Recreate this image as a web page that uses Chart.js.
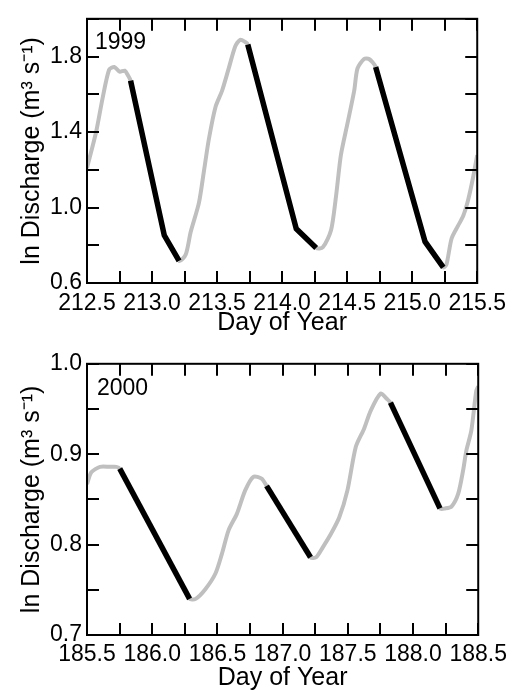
<!DOCTYPE html>
<html>
<head>
<meta charset="utf-8">
<script src="https://cdn.jsdelivr.net/npm/chart.js@4/dist/chart.umd.min.js"></script>
<style>
  body { margin: 0; background: #fff; }
  canvas { position: absolute; left: 0; }
  #chart1999 { top: 0; }
  #chart2000 { top: 345px; }
</style>
</head>
<body>
<canvas id="chart1999" width="513" height="345"></canvas>
<canvas id="chart2000" width="513" height="350"></canvas>
<script>
// 1999 - full discharge record (grey)
const days1999 = [212.5, 212.57, 212.62, 212.67, 212.71, 212.75, 212.79, 212.815, 212.835,
  213.094, 213.208, 213.259, 213.297, 213.36, 213.399, 213.437, 213.488, 213.538, 213.589,
  213.64, 213.678, 213.716, 213.736, 214.109, 214.262, 214.313, 214.376, 214.414, 214.452,
  214.503, 214.554, 214.579, 214.63, 214.668, 214.719, 215.099, 215.239, 215.264, 215.303,
  215.353, 215.392, 215.43, 215.468, 215.5];
const q1999 = [1.21, 1.40, 1.58, 1.73, 1.745, 1.72, 1.725, 1.70, 1.672,
  0.853, 0.717, 0.751, 0.87, 1.023, 1.193, 1.363, 1.533, 1.618, 1.736,
  1.855, 1.889, 1.877, 1.864, 0.887, 0.785, 0.789, 0.879, 1.057, 1.278,
  1.447, 1.618, 1.736, 1.787, 1.787, 1.745, 0.819, 0.683, 0.70, 0.836,
  0.904, 0.955, 1.04, 1.159, 1.278];
// 1999 - recession segments (black)
const recDays1999 = [[212.835, 213.094, 213.208], [213.736, 214.109, 214.262], [214.719, 215.099, 215.239]];
const recQ1999 = [[1.672, 0.853, 0.717], [1.864, 0.887, 0.785], [1.745, 0.819, 0.683]];

// 2000
const days2000 = [185.5, 185.533, 185.6, 185.675, 185.725, 185.751, 186.287, 186.333, 186.409,
  186.485, 186.535, 186.586, 186.649, 186.713, 186.776, 186.839, 186.877, 187.214, 187.257,
  187.308, 187.371, 187.434, 187.497, 187.561, 187.624, 187.675, 187.751, 187.801, 187.827,
  188.207, 188.245, 188.295, 188.346, 188.384, 188.409, 188.447, 188.485, 188.5];
const q2000 = [0.867, 0.880, 0.886, 0.886, 0.886, 0.884, 0.740, 0.740, 0.751,
  0.768, 0.790, 0.816, 0.834, 0.860, 0.875, 0.873, 0.865, 0.786, 0.786,
  0.797, 0.812, 0.830, 0.860, 0.908, 0.928, 0.948, 0.967, 0.961, 0.957,
  0.840, 0.840, 0.842, 0.856, 0.882, 0.904, 0.926, 0.970, 0.975];
const recDays2000 = [[185.751, 186.287], [186.877, 187.214], [187.827, 188.207]];
const recQ2000 = [[0.884, 0.740], [0.865, 0.786], [0.957, 0.840]];

Chart.defaults.font.family = '"Liberation Sans", Arial, sans-serif';
Chart.defaults.color = '#000';

const toPoints = (xs, ys) => xs.map((x, i) => ({ x, y: ys[i] }));

// inward ticks on all four sides + frame + year label
const framePlugin = {
  id: 'frame',
  afterDatasetsDraw(chart, args, opts) {
    const { ctx, chartArea: a, scales: { x, y } } = chart;
    const len = 12;
    ctx.save();
    ctx.strokeStyle = '#000';
    ctx.lineWidth = 2;
    ctx.beginPath();
    x.ticks.forEach(t => {
      const px = Math.round(x.getPixelForValue(t.value));
      ctx.moveTo(px, a.bottom); ctx.lineTo(px, a.bottom - len);
      ctx.moveTo(px, a.top); ctx.lineTo(px, a.top + len);
    });
    y.ticks.forEach(t => {
      const py = Math.round(y.getPixelForValue(t.value));
      ctx.moveTo(a.left, py); ctx.lineTo(a.left + len, py);
      ctx.moveTo(a.right, py); ctx.lineTo(a.right - len, py);
    });
    ctx.stroke();
    ctx.strokeRect(a.left, a.top, a.right - a.left, a.bottom - a.top);
    ctx.fillStyle = '#000';
    ctx.font = '23px "Liberation Sans", Arial, sans-serif';
    ctx.textBaseline = 'middle';
    ctx.fillText(opts.label, a.left + opts.dx, a.top + opts.dy);
    ctx.restore();
  }
};

function makeChart(id, cfg) {
  // grey segments that fall inside a recession are hidden (black drawn there)
  const inRecession = (x0, x1) => cfg.recDays.some(d => x0 >= d[0] && x1 <= d[d.length - 1]);
  const datasets = [{
    data: toPoints(cfg.days, cfg.q),
    borderColor: '#bfbfbf',
    borderWidth: 4,
    tension: 0.25,
    pointRadius: 0,
    order: 2,
    segment: {
      borderColor: c => inRecession(c.p0.parsed.x, c.p1.parsed.x) ? 'rgba(0,0,0,0)' : '#bfbfbf'
    }
  }];
  cfg.recDays.forEach((d, i) => {
    datasets.push({
      data: toPoints(d, cfg.recQ[i]),
      borderColor: '#000',
      borderWidth: 5.5,
      tension: 0,
      pointRadius: 0,
      order: 1
    });
  });

  return new Chart(document.getElementById(id), {
    type: 'line',
    data: { datasets },
    options: {
      responsive: false,
      animation: false,
      layout: { padding: cfg.padding },
      plugins: {
        legend: { display: false },
        tooltip: { enabled: false },
        frame: { label: cfg.label, dx: cfg.labelDx, dy: cfg.labelDy }
      },
      scales: {
        x: {
          type: 'linear',
          min: cfg.xMin, max: cfg.xMax,
          grid: { display: false, drawTicks: false },
          border: { display: false },
          ticks: {
            stepSize: 0.25, autoSkip: false, maxRotation: 0, padding: cfg.xTickPad,
            font: { size: 23 },
            callback: v => Math.round(v * 4) % 2 === 0 ? v.toFixed(1) : ''
          },
          title: { display: true, text: 'Day of Year', font: { size: 25 }, padding: { top: 0, bottom: cfg.xTitlePad } },
          afterFit: s => { s.height = cfg.xHeight; }
        },
        y: {
          min: cfg.yMin, max: cfg.yMax,
          grid: { display: false, drawTicks: false },
          border: { display: false },
          ticks: {
            stepSize: cfg.yStep, autoSkip: false, padding: 5,
            font: { size: 23 },
            callback: cfg.yLabel
          },
          title: { display: true, text: 'ln Discharge (m³ s⁻¹)', font: { size: 25 }, padding: { top: 17, bottom: 0 } },
          afterFit: s => { s.width = 87; }
        }
      }
    },
    plugins: [framePlugin]
  });
}

makeChart('chart1999', {
  days: days1999, q: q1999, recDays: recDays1999, recQ: recQ1999,
  xMin: 212.5, xMax: 215.5, yMin: 0.6, yMax: 2.0, yStep: 0.2,
  yLabel: v => Math.round((v - 0.6) / 0.2) % 2 === 0 ? v.toFixed(1) : '',
  padding: { top: 9, right: 32, left: 0, bottom: 0 },
  xHeight: 62, xTickPad: 7, xTitlePad: 7,
  label: '1999', labelDx: 8, labelDy: 24
});

makeChart('chart2000', {
  days: days2000, q: q2000, recDays: recDays2000, recQ: recQ2000,
  xMin: 185.5, xMax: 188.5, yMin: 0.7, yMax: 1.0, yStep: 0.05,
  yLabel: v => Math.round(v * 20) % 2 === 0 ? v.toFixed(1) : '',
  padding: { top: 18, right: 31, left: 0, bottom: 0 },
  xHeight: 60, xTickPad: 6, xTitlePad: 2,
  label: '2000', labelDx: 10, labelDy: 25
});
</script>
</body>
</html>
